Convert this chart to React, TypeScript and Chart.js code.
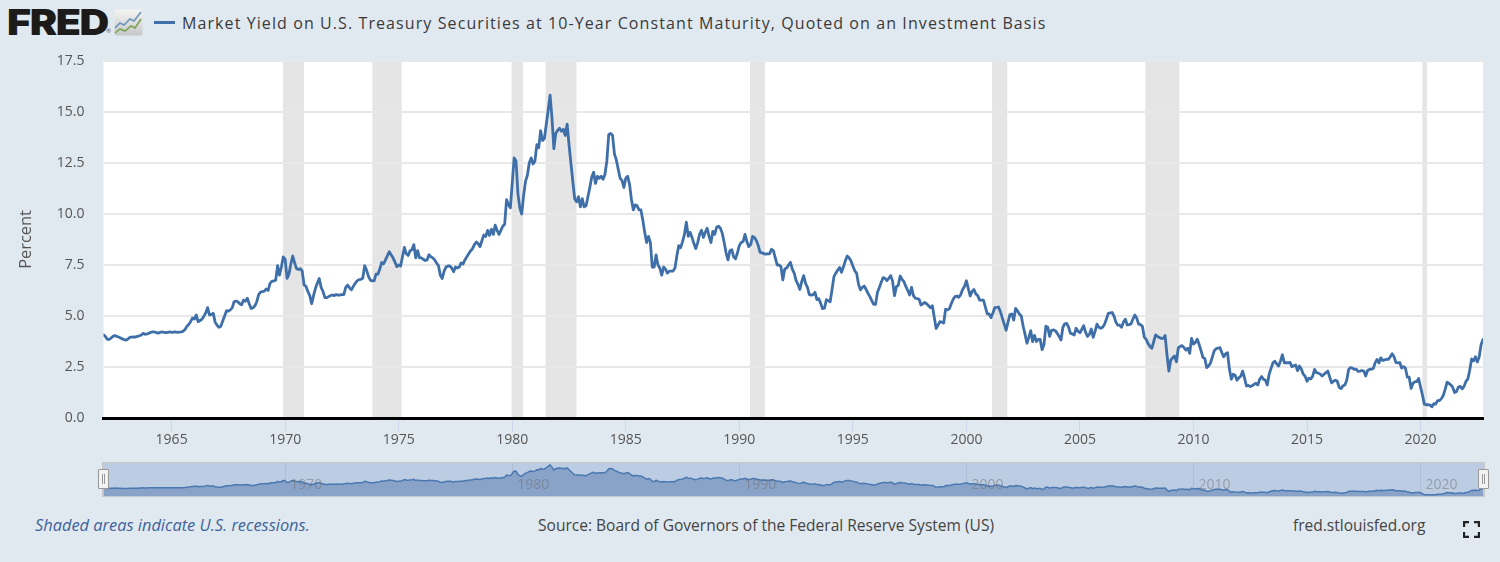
import React, { useEffect, useRef } from "react";
import { Chart, registerables } from "chart.js";

Chart.register(...registerables);

const startYear = 1962;

const yields1960s = [
  4.08, 4.0, 3.86, 3.85, 3.92, 4.0, 4.04, 4.0, 3.97, 3.92, 3.88, 3.84,
  3.82, 3.88, 3.96, 3.96, 3.97, 3.97, 4.0, 4.03, 4.07, 4.15, 4.1, 4.12,
  4.15, 4.2, 4.22, 4.22, 4.18, 4.16, 4.2, 4.22, 4.2, 4.18, 4.2, 4.22,
  4.2, 4.21, 4.22, 4.2, 4.21, 4.22, 4.25, 4.33, 4.48, 4.58, 4.72, 4.9,
  4.85, 5.05, 4.72, 4.78, 4.84, 4.98, 5.15, 5.41, 5.05, 5.08, 5.13, 4.7,
  4.55, 4.45, 4.5, 4.75, 5.0, 5.26, 5.24, 5.3, 5.4, 5.7, 5.73, 5.7,
  5.6, 5.55, 5.78, 5.72, 5.87, 5.6, 5.37, 5.4, 5.5, 5.7, 6.05, 6.17,
  6.2, 6.22, 6.32, 6.25, 6.6, 6.7, 6.72, 6.76, 7.47, 7.0, 7.4, 7.9,
];
const yields1970s = [
  7.78, 6.84, 7.05, 7.55, 7.94, 7.6, 7.33, 7.28, 7.32, 7.2, 6.52, 6.45,
  6.2, 6.0, 5.6, 6.0, 6.35, 6.62, 6.84, 6.4, 6.2, 5.9, 5.9, 5.95,
  6.0, 6.03, 6.0, 6.05, 6.02, 6.03, 6.05, 6.05, 6.4, 6.52, 6.38, 6.28,
  6.45, 6.6, 6.72, 6.78, 6.8, 6.85, 7.47, 7.25, 6.95, 6.76, 6.72, 6.72,
  7.05, 7.05, 7.3, 7.62, 7.55, 7.75, 7.95, 8.15, 8.0, 7.85, 7.65, 7.42,
  7.5, 7.45, 7.9, 8.36, 8.05, 7.97, 8.2, 8.25, 8.5, 7.85, 8.2, 7.85,
  7.85, 7.78, 7.72, 7.75, 8.0, 7.9, 7.85, 7.75, 7.6, 7.47, 7.0, 6.84,
  7.2, 7.4, 7.45, 7.45, 7.35, 7.17, 7.4, 7.35, 7.4, 7.6, 7.55, 7.75,
  7.9, 8.05, 8.2, 8.3, 8.5, 8.63, 8.55, 8.4, 8.7, 8.97, 8.9, 9.2,
  8.95, 9.25, 9.0, 9.45, 9.2, 9.0, 9.2, 9.4, 9.5, 10.7, 10.45, 10.3,
];
const yields1980s = [
  11.5, 12.75, 12.6, 11.0, 10.3, 10.0, 10.9, 11.6, 11.9, 12.5, 12.75, 12.45,
  12.6, 13.4, 13.25, 14.08, 13.6, 13.7, 14.4, 15.1, 15.83, 14.7, 13.2, 13.95,
  14.1, 14.2, 14.05, 14.15, 13.85, 14.4, 13.4, 12.5, 11.6, 10.75, 10.6, 10.85,
  10.35, 10.75, 10.35, 10.4, 10.85, 11.3, 11.8, 12.05, 11.5, 11.85, 11.75, 11.85,
  11.7, 11.95, 12.6, 13.9, 13.95, 13.85, 12.95, 12.65, 12.2, 11.75, 11.65, 11.3,
  11.75, 11.85, 11.45, 10.7, 10.2, 10.45, 10.4, 10.2, 10.2, 9.7, 9.1, 8.6,
  8.9, 8.6, 7.4, 7.4, 8.0, 7.5, 7.35, 7.0, 7.4, 7.3, 7.1, 7.2,
  7.2, 7.2, 7.35, 7.95, 8.45, 8.35, 8.65, 9.0, 9.6, 8.9, 9.1, 8.85,
  8.55, 8.3, 8.6, 9.0, 9.2, 8.85, 9.1, 9.3, 8.9, 8.6, 9.15, 9.0,
  9.35, 9.4, 9.3, 9.05, 8.6, 8.1, 7.75, 8.2, 8.25, 7.9, 7.8, 8.1,
];
const yields1990s = [
  8.45, 8.6, 8.65, 9.0, 8.65, 8.4, 8.5, 8.9, 8.85, 8.7, 8.45, 8.12,
  8.1, 8.05, 8.04, 8.05, 8.05, 8.27, 8.2, 7.85, 7.5, 7.5, 7.42, 6.77,
  7.3, 7.35, 7.5, 7.63, 7.3, 7.1, 6.73, 6.55, 6.3, 6.7, 6.98, 6.6,
  6.4, 6.05, 6.02, 6.05, 6.16, 5.8, 5.85, 5.62, 5.36, 5.38, 5.8, 5.75,
  5.7, 6.3, 6.93, 7.1, 7.25, 7.38, 7.14, 7.4, 7.7, 7.94, 7.85, 7.7,
  7.45, 7.22, 7.09, 6.55, 6.28, 6.4, 6.47, 6.3, 6.11, 5.95, 5.75, 5.57,
  5.57, 6.16, 6.4, 6.65, 6.88, 6.85, 6.73, 6.85, 6.98, 6.7, 6.0, 6.44,
  6.5, 6.96, 6.8, 6.68, 6.45, 6.25, 6.03, 6.4, 6.0, 5.87, 5.85, 5.82,
  5.54, 5.6, 5.67, 5.6, 5.5, 5.41, 5.5, 4.95, 4.39, 4.55, 4.72, 4.7,
  4.65, 5.33, 5.3, 5.35, 5.6, 5.82, 5.95, 5.98, 5.92, 6.05, 6.3, 6.45,
];
const yields2000s = [
  6.73, 6.35, 5.98, 6.2, 6.3, 6.08, 6.0, 5.78, 5.78, 5.78, 5.45, 5.1,
  5.1, 4.92, 5.15, 5.41, 5.42, 5.44, 5.2, 4.9, 4.6, 4.3, 4.7, 5.07,
  5.1, 4.8, 5.37, 5.25, 5.1, 5.0, 4.5, 4.1, 3.66, 3.95, 4.28, 3.74,
  4.05, 3.75, 3.85, 3.85, 3.35, 3.6, 4.5, 4.45, 4.0, 4.3, 4.32, 4.28,
  4.15, 4.0, 3.82, 4.45, 4.62, 4.64, 4.45, 4.15, 4.12, 4.07, 4.4, 4.25,
  4.18, 4.35, 4.52, 4.2, 4.0, 4.1, 4.36, 3.95, 4.25, 4.6, 4.45, 4.4,
  4.45, 4.6, 4.85, 5.13, 5.15, 5.17, 5.0, 4.7, 4.55, 4.55, 4.45, 4.7,
  4.84, 4.56, 4.58, 4.61, 4.85, 5.05, 4.9, 4.6, 4.58, 4.5, 3.96, 3.85,
  3.65, 3.5, 3.42, 3.75, 4.07, 4.0, 3.95, 3.9, 3.9, 4.05, 3.1, 2.3,
  2.84, 2.95, 3.04, 2.76, 3.45, 3.5, 3.55, 3.45, 3.33, 3.42, 3.17, 3.9,
];
const yields2010s = [
  3.62, 3.7, 3.86, 3.6, 3.3, 2.97, 2.92, 2.47, 2.55, 2.7, 3.0, 3.3,
  3.4, 3.42, 3.45, 3.2, 3.0, 3.15, 3.2, 2.4, 1.9, 2.15, 2.1, 1.85,
  1.97, 2.05, 2.3, 1.95, 1.57, 1.6, 1.54, 1.58, 1.65, 1.7, 1.62, 1.9,
  2.03, 1.9, 1.85, 1.62, 2.15, 2.43, 2.7, 2.78, 2.65, 2.55, 2.8, 3.1,
  2.7, 2.72, 2.7, 2.73, 2.52, 2.56, 2.6, 2.32, 2.55, 2.4, 2.15, 2.05,
  1.8, 1.95, 1.92, 2.05, 2.38, 2.22, 2.2, 2.15, 2.06, 2.15, 2.22, 2.3,
  2.0, 1.72, 1.8, 1.86, 1.8, 1.5, 1.44, 1.58, 1.62, 1.85, 2.38, 2.47,
  2.45, 2.38, 2.4, 2.28, 2.3, 2.33, 2.3, 2.06, 2.33, 2.38, 2.4, 2.42,
  2.7, 2.87, 2.7, 2.95, 2.82, 2.85, 2.88, 2.87, 3.0, 3.15, 3.0, 2.72,
  2.7, 2.72, 2.45, 2.52, 2.45, 2.0, 2.0, 1.45, 1.7, 1.78, 1.78, 1.94,
];
const yields2020s = [
  1.51, 1.13, 0.68, 0.65, 0.65, 0.63, 0.55, 0.7, 0.68, 0.85, 0.85, 0.95,
  1.1, 1.4, 1.75, 1.7, 1.62, 1.5, 1.25, 1.3, 1.52, 1.55, 1.43, 1.55,
  1.8, 1.92, 2.35, 2.9, 2.8, 3.0, 2.75, 3.0, 3.6, 3.85,
];

const yieldValues = [
  ...yields1960s, ...yields1970s, ...yields1980s, ...yields1990s,
  ...yields2000s, ...yields2010s, ...yields2020s,
];

const recessionStarts = [1969.9, 1973.84, 1979.97, 1981.47, 1990.47, 2001.13, 2007.88, 2020.08];
const recessionEnds = [1970.83, 1975.13, 1980.47, 1982.83, 1991.13, 2001.8, 2009.38, 2020.28];

const xTickYears = [1965, 1970, 1975, 1980, 1985, 1990, 1995, 2000, 2005, 2010, 2015, 2020];
const navTickYears = [1970, 1980, 1990, 2000, 2010, 2020];
const xMin = 1962;
const xMax = 2022.75;

const titleText = "Market Yield on U.S. Treasury Securities at 10-Year Constant Maturity, Quoted on an Investment Basis";
const yAxisTitle = "Percent";
const noteText = "Shaded areas indicate U.S. recessions.";
const sourceText = "Source: Board of Governors of the Federal Reserve System (US)";
const siteText = "fred.stlouisfed.org";

const FONT = '"Open Sans", sans-serif';
const BG = "#e1e9f0";
const LINE = "#3f6fa8";

const points = yieldValues.map((y, i) => ({ x: startYear + i / 12, y }));

const plotBackground = {
  id: "plotBackground",
  beforeDraw(chart: any) {
    const { ctx, chartArea: a, scales } = chart;
    ctx.save();
    ctx.fillStyle = "#ffffff";
    ctx.fillRect(a.left, a.top, a.right - a.left, a.bottom - a.top);
    ctx.fillStyle = "#e5e5e5";
    recessionStarts.forEach((s, i) => {
      const x0 = scales.x.getPixelForValue(s);
      const x1 = scales.x.getPixelForValue(recessionEnds[i]);
      ctx.fillRect(x0, a.top, x1 - x0, a.bottom - a.top);
    });
    ctx.restore();
  },
};

export default function App() {
  const mainRef = useRef<HTMLCanvasElement>(null);
  const navRef = useRef<HTMLCanvasElement>(null);

  useEffect(() => {
    document.body.style.margin = "0";
    Chart.defaults.font.family = FONT;
    const main = new Chart(mainRef.current!, {
      type: "line",
      data: {
        datasets: [
          {
            label: titleText,
            data: points,
            borderColor: LINE,
            borderWidth: 2.8,
            borderJoinStyle: "round",
            borderCapStyle: "round",
            pointRadius: 0,
            tension: 0,
            fill: false,
          },
        ],
      },
      plugins: [plotBackground],
      options: {
        animation: false,
        responsive: false,
        devicePixelRatio: 1,
        layout: { padding: { top: 61, right: 17, left: 0, bottom: 0 } },
        plugins: { legend: { display: false }, tooltip: { enabled: false } },
        scales: {
          x: {
            type: "linear",
            min: xMin,
            max: xMax,
            afterBuildTicks(scale: any) {
              scale.ticks = xTickYears.map((value) => ({ value }));
            },
            afterFit(scale: any) {
              scale.height = 42;
            },
            grid: { drawOnChartArea: false, drawTicks: true, tickLength: 13, color: "#ccd6eb", lineWidth: 1 },
            border: { display: true, color: "#000000", width: 3 },
            ticks: {
              autoSkip: false,
              maxRotation: 0,
              minRotation: 0,
              padding: 1,
              color: "#555555",
              font: { size: 14 },
              callback: (v: any) => String(v),
            },
          },
          y: {
            type: "linear",
            min: 0,
            max: 17.5,
            afterFit(scale: any) {
              scale.width = 103.5;
            },
            grid: { color: "#e8e8e8", lineWidth: 2, drawTicks: false },
            border: { display: false },
            title: {
              display: true,
              text: yAxisTitle,
              color: "#555555",
              font: { size: 16.4 },
              padding: { top: 16, bottom: 0 },
            },
            ticks: {
              stepSize: 2.5,
              padding: 19,
              color: "#555555",
              font: { size: 14 },
              callback: (v: any) => Number(v).toFixed(1),
            },
          },
        },
      },
    } as any);

    const nav = new Chart(navRef.current!, {
      type: "line",
      data: {
        datasets: [
          {
            label: "navigator",
            data: points,
            borderColor: "#4a78b0",
            backgroundColor: "#89a3c8",
            borderWidth: 1.5,
            borderJoinStyle: "round",
            pointRadius: 0,
            tension: 0,
            fill: "origin",
          },
        ],
      },
      options: {
        animation: false,
        responsive: false,
        devicePixelRatio: 1,
        layout: { padding: { top: 0, right: 17, left: 103.5, bottom: 0 } },
        plugins: { legend: { display: false }, tooltip: { enabled: false } },
        scales: {
          x: {
            type: "linear",
            min: xMin,
            max: xMax,
            afterBuildTicks(scale: any) {
              scale.ticks = navTickYears.map((value) => ({ value }));
            },
            afterFit(scale: any) {
              scale.height = 0;
            },
            grid: { drawOnChartArea: true, drawTicks: false, color: "rgba(170,185,205,0.8)", lineWidth: 1 },
            border: { display: false },
            ticks: {
              z: 1,
              mirror: true,
              autoSkip: false,
              maxRotation: 0,
              padding: 3,
              labelOffset: 21,
              color: "rgba(110,110,110,0.5)",
              font: { size: 14 },
              callback: (v: any) => String(v),
            },
          },
          y: { type: "linear", display: false, min: 0, max: 16.8 },
        },
      },
    } as any);

    return () => {
      main.destroy();
      nav.destroy();
    };
  }, []);

  const textBase: React.CSSProperties = { position: "absolute", fontFamily: FONT, whiteSpace: "nowrap", lineHeight: "20px" };
  const handle = (left: number) => (
    <div
      style={{
        position: "absolute",
        left,
        top: 469,
        width: 9,
        height: 18,
        background: "#f2f2f2",
        border: "1px solid #999999",
        borderRadius: 1,
      }}
    >
      <div style={{ position: "absolute", left: 2.5, top: 4, width: 1, height: 10, background: "#999999" }} />
      <div style={{ position: "absolute", left: 5, top: 4, width: 1, height: 10, background: "#999999" }} />
    </div>
  );

  return (
    <div style={{ position: "absolute", left: 0, top: 0, width: 1500, height: 562, background: BG, overflow: "hidden" }}>
      <div
        style={{
          ...textBase,
          left: 7,
          top: 5,
          fontFamily: "Inter, sans-serif",
          fontWeight: 900,
          fontSize: 35.5,
          lineHeight: "36px",
          letterSpacing: -1.2,
          color: "#1d1b1a",
          transform: "scaleX(1.16)",
          transformOrigin: "left center",
        }}
      >
        FRED
      </div>
      <div style={{ ...textBase, left: 106, top: 27, fontSize: 6, lineHeight: "8px", color: "#555555" }}>®</div>
      <svg style={{ position: "absolute", left: 114, top: 9 }} width={29} height={27} viewBox="0 0 29 27">
        <defs>
          <linearGradient id="iconBg" x1="0" y1="0" x2="0" y2="1">
            <stop offset="0" stopColor="#f4f4f2" />
            <stop offset="1" stopColor="#c6c8c8" />
          </linearGradient>
        </defs>
        <rect x="0.5" y="0.5" width="28" height="26" rx="2" fill="url(#iconBg)" />
        <polyline points="1,19 6,14 10,16 16,10 20,12 27,3" fill="none" stroke="#6d94bd" strokeWidth="1.6" />
        <polyline points="1,24 6,20 11,22 17,17 21,19 27,10" fill="none" stroke="#79a150" strokeWidth="1.6" />
      </svg>
      <div style={{ position: "absolute", left: 154, top: 21, width: 21, height: 3, background: LINE }} />
      <div
        style={{
          ...textBase,
          left: 182,
          top: 13,
          fontSize: 16,
          fontWeight: 500,
          letterSpacing: 1.09,
          color: "#3a3a3a",
        }}
      >
        {titleText}
      </div>

      <canvas ref={mainRef} width={1500} height={460} style={{ position: "absolute", left: 0, top: 0 }} />

      <div
        style={{
          position: "absolute",
          left: 102,
          top: 462,
          width: 1381,
          height: 33,
          background: "#bccde3",
          border: "1px solid #c8c8c8",
          boxSizing: "content-box",
        }}
      />
      <canvas ref={navRef} width={1500} height={33} style={{ position: "absolute", left: 0, top: 463 }} />
      {handle(98)}
      {handle(1478)}

      <div style={{ ...textBase, left: 35, top: 515, fontSize: 16.4, fontStyle: "italic", color: "#3d629b" }}>{noteText}</div>
      <div style={{ ...textBase, left: 538, top: 515, fontSize: 15.55, color: "#444444" }}>{sourceText}</div>
      <div style={{ ...textBase, left: 1293, top: 515, fontSize: 15.5, color: "#444444" }}>{siteText}</div>
      <svg style={{ position: "absolute", left: 1463, top: 521 }} width={17} height={17} viewBox="0 0 17 17">
        <path
          d="M1 6V1H6 M11 1H16V6 M16 11V16H11 M6 16H1V11"
          fill="none"
          stroke="#222222"
          strokeWidth="2.4"
        />
      </svg>
    </div>
  );
}
